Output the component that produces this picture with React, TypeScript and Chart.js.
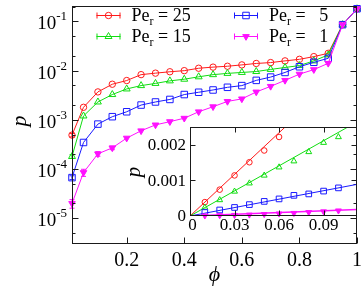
import React, { useEffect, useRef } from "react";
import { Chart, registerables } from "chart.js";
Chart.register(...registerables);

// ---------------- data (main panel, log scale) ----------------
const PHI = [0.01, 0.05, 0.1, 0.15, 0.2, 0.25, 0.3, 0.35, 0.4, 0.45, 0.5, 0.55, 0.6, 0.65, 0.7, 0.75, 0.8, 0.85, 0.9, 0.95, 1.0];
const P_PE25 = [4.9e-4, 1.8e-3, 3.7e-3, 5.3e-3, 6.3e-3, 8.3e-3, 8.9e-3, 9.5e-3, 1.0e-2, 1.12e-2, 1.18e-2, 1.23e-2, 1.31e-2, 1.4e-2, 1.46e-2, 1.58e-2, 1.7e-2, 1.93e-2, 2.25e-2, 0.086, 0.181];
const P_PE15 = [1.8e-4, 1.2e-3, 2.31e-3, 3.27e-3, 4.25e-3, 4.97e-3, 5.5e-3, 6.2e-3, 6.7e-3, 7.5e-3, 8.3e-3, 8.8e-3, 9.2e-3, 9.6e-3, 1.06e-2, 1.16e-2, 1.27e-2, 1.58e-2, 2.09e-2, 0.086, 0.181];
const P_PE5 = [6.7e-5, 3.47e-4, 8.2e-4, 1.16e-3, 1.46e-3, 2.0e-3, 2.31e-3, 2.6e-3, 3.27e-3, 3.64e-3, 4.05e-3, 4.59e-3, 4.97e-3, 6.35e-3, 7.4e-3, 9.2e-3, 1.2e-2, 1.48e-2, 1.78e-2, 0.086, 0.181];
const P_PE1 = [2.0e-5, 8.5e-5, 2.04e-4, 2.7e-4, 4.26e-4, 6.0e-4, 7.9e-4, 9.2e-4, 1.08e-3, 1.46e-3, 1.85e-3, 2.37e-3, 2.67e-3, 3.69e-3, 4.8e-3, 6.35e-3, 8.5e-3, 1.05e-2, 1.41e-2, 0.086, 0.181];
const ERR_PE25 = [4e-5, 0, 0, 0, 0, 0, 0, 0, 0, 0, 0, 0, 0, 0, 0, 0, 0, 0, 0, 0, 0];
const ERR_PE15 = [1.5e-5, 0, 0, 0, 0, 0, 0, 0, 0, 0, 0, 0, 0, 0, 0, 0, 0, 0, 0, 0, 0];
const ERR_PE5 = [6e-6, 0, 0, 0, 0, 0, 0, 0, 0, 0, 0, 0, 0, 0, 0, 0, 0, 0, 0, 0, 0];
const ERR_PE1 = [4e-6, 1.4e-5, 2.2e-5, 2.2e-5, 0, 0, 0, 0, 0, 0, 0, 0, 0, 0, 0, 0, 0, 0, 0, 0, 0];
const PE_LABELS = ["25", "15", "5", "1"];
const X_TICKS = [0.2, 0.4, 0.6, 0.8, 1];
const X_TICK_LABELS = ["0.2", "0.4", "0.6", "0.8", "1"];
const Y_DECADES = [-5, -4, -3, -2, -1];

// ---------------- data (inset, linear scale) ----------------
const INSET_PHI = [0.01, 0.02, 0.03, 0.04, 0.05, 0.06, 0.07, 0.08, 0.09, 0.1];
const INSET_PE25 = [3.9e-4, 7.4e-4, 1.14e-3, 1.51e-3, 1.84e-3, 2.22e-3];
const INSET_PE15 = [2.4e-4, 4.5e-4, 6.9e-4, 9.2e-4, 1.14e-3, 1.37e-3, 1.54e-3, 1.8e-3, 2.06e-3, 2.22e-3];
const INSET_PE5 = [9.9e-5, 1.69e-4, 2.4e-4, 3.2e-4, 4.1e-4, 4.8e-4, 5.8e-4, 6.2e-4, 7.0e-4, 7.9e-4];
const INSET_PE1 = [1.0e-5, 1.8e-5, 2.5e-5, 3.5e-5, 5.0e-5, 6.5e-5, 8.0e-5, 1.05e-4, 1.25e-4, 1.5e-4];
const INSET_FIT_SLOPE = [0.039, 0.0235, 0.0079, 0.0016];
const INSET_X_TICKS = [0, 0.03, 0.06, 0.09];
const INSET_X_LABELS = ["0", "0.03", "0.06", "0.09"];
const INSET_Y_TICKS = [0, 0.001, 0.002];
const INSET_Y_LABELS = ["0", "0.001", "0.002"];

// ---------------- styles ----------------
const SERIES_MAIN = [P_PE25, P_PE15, P_PE5, P_PE1];
const SERIES_ERR = [ERR_PE25, ERR_PE15, ERR_PE5, ERR_PE1];
const SERIES_INSET = [INSET_PE25, INSET_PE15, INSET_PE5, INSET_PE1];
const COLORS = ["#ff1a1a", "#11dd11", "#1a1aff", "#ff11ff"];
const MARKERS = [
  { style: "circle", rot: 0, r: 3.2, filled: false },
  { style: "triangle", rot: 0, r: 4, filled: false },
  { style: "rect", rot: 0, r: 4.6, filled: false },
  { style: "triangle", rot: 180, r: 3.8, filled: true },
];
const INSET_R = [2.8, 3.4, 4.0, 3.4];
const SERIF = '"Liberation Serif", "Times New Roman", "DejaVu Serif", serif';
const AXIS = "#1a1a1a";

const X_MIN = 0.01, X_MAX = 1.0, Y_MIN = 3e-6, Y_MAX = 0.21;
const IX_MAX = 0.1125, IY_MAX = 0.0025;

function drawMarker(ctx: CanvasRenderingContext2D, idx: number, x: number, y: number, r: number) {
  const m = MARKERS[idx];
  ctx.save();
  ctx.strokeStyle = COLORS[idx];
  ctx.fillStyle = COLORS[idx];
  ctx.lineWidth = 1;
  ctx.beginPath();
  if (m.style === "circle") {
    ctx.arc(x, y, r, 0, Math.PI * 2);
  } else if (m.style === "rect") {
    const s = Math.SQRT1_2 * r;
    ctx.rect(x - s, y - s, 2 * s, 2 * s);
  } else {
    let rad = (m.rot * Math.PI) / 180;
    ctx.moveTo(x + Math.sin(rad) * r, y - Math.cos(rad) * r);
    rad += (2 * Math.PI) / 3;
    ctx.lineTo(x + Math.sin(rad) * r, y - Math.cos(rad) * r);
    rad += (2 * Math.PI) / 3;
    ctx.lineTo(x + Math.sin(rad) * r, y - Math.cos(rad) * r);
    ctx.closePath();
  }
  if (m.filled) ctx.fill();
  ctx.stroke();
  ctx.restore();
}

const mainDeco = {
  id: "mainDeco",
  afterDatasetsDraw(chart: any) {
    const ctx: CanvasRenderingContext2D = chart.ctx;
    const ys = chart.scales.y;
    ctx.save();
    ctx.lineWidth = 1;
    SERIES_ERR.forEach((errs, i) => {
      const meta = chart.getDatasetMeta(i);
      ctx.strokeStyle = COLORS[i];
      errs.forEach((e, j) => {
        if (!e) return;
        const pt = meta.data[j];
        const v = SERIES_MAIN[i][j];
        const y1 = ys.getPixelForValue(v - e);
        const y2 = ys.getPixelForValue(v + e);
        const x = pt.x;
        ctx.beginPath();
        ctx.moveTo(x, y1); ctx.lineTo(x, y2);
        ctx.moveTo(x - 2.5, y1); ctx.lineTo(x + 2.5, y1);
        ctx.moveTo(x - 2.5, y2); ctx.lineTo(x + 2.5, y2);
        ctx.stroke();
      });
    });
    ctx.restore();
  },
  afterDraw(chart: any) {
    const ctx: CanvasRenderingContext2D = chart.ctx;
    const a = chart.chartArea;
    const xs = chart.scales.x;
    const ys = chart.scales.y;
    ctx.save();
    ctx.strokeStyle = AXIS;
    ctx.lineWidth = 1;
    const L = Math.round(a.left) + 0.5, R = Math.round(a.right) - 0.5;
    const T = Math.round(a.top) + 0.5, B = Math.round(a.bottom) - 0.5;
    ctx.strokeRect(L, T, R - L, B - T);
    ctx.beginPath();
    X_TICKS.forEach((t) => {
      const x = Math.round(xs.getPixelForValue(t)) + 0.5;
      ctx.moveTo(x, B); ctx.lineTo(x, B - 6);
    });
    Y_DECADES.forEach((d) => {
      const y = Math.round(ys.getPixelForValue(Math.pow(10, d))) + 0.5;
      ctx.moveTo(L, y); ctx.lineTo(L + 6, y);
      ctx.moveTo(R, y); ctx.lineTo(R - 6, y);
      [2, 5].forEach((m) => {
        const v = m * Math.pow(10, d);
        if (v > Y_MAX) return;
        const ym = Math.round(ys.getPixelForValue(v)) + 0.5;
        ctx.moveTo(L, ym); ctx.lineTo(L + 3, ym);
        ctx.moveTo(R, ym); ctx.lineTo(R - 3, ym);
      });
    });
    [2, 5].forEach((m) => {
      const v = m * 1e-6;
      if (v < Y_MIN) return;
      const ym = Math.round(ys.getPixelForValue(v)) + 0.5;
      ctx.moveTo(L, ym); ctx.lineTo(L + 3, ym);
      ctx.moveTo(R, ym); ctx.lineTo(R - 3, ym);
    });
    ctx.stroke();

    // tick labels
    ctx.fillStyle = "#000";
    ctx.font = `20px ${SERIF}`;
    ctx.textAlign = "center";
    ctx.textBaseline = "middle";
    X_TICKS.forEach((t, i) => {
      ctx.fillText(X_TICK_LABELS[i], xs.getPixelForValue(t), 261);
    });
    Y_DECADES.forEach((d) => {
      const y = ys.getPixelForValue(Math.pow(10, d));
      ctx.textBaseline = "alphabetic";
      ctx.textAlign = "right";
      ctx.font = `13px ${SERIF}`;
      const sup = "-" + String(-d);
      const supW = ctx.measureText(sup).width;
      ctx.fillText(sup, a.left - 5, y - 1);
      ctx.font = `19px ${SERIF}`;
      ctx.fillText("10", a.left - 5 - supW, y + 8);
    });

    // axis titles
    ctx.font = `italic 22px ${SERIF}`;
    ctx.textAlign = "center";
    ctx.textBaseline = "middle";
    ctx.fillText("\u03D5", (a.left + a.right) / 2, 275);
    ctx.save();
    ctx.translate(20, 121);
    ctx.rotate(-Math.PI / 2);
    ctx.fillText("p", 0, 0);
    ctx.restore();

    // legend
    const rows = [15, 36];
    const cols = [131.5, 269];
    PE_LABELS.forEach((lab, i) => {
      const x0 = cols[i < 2 ? 0 : 1];
      const y0 = rows[i % 2];
      ctx.strokeStyle = COLORS[i];
      ctx.lineWidth = 1;
      ctx.beginPath();
      ctx.moveTo(x0 - 35, y0 + 0.5); ctx.lineTo(x0 - 11, y0 + 0.5);
      ctx.moveTo(x0 - 34.5, y0 - 2.5); ctx.lineTo(x0 - 34.5, y0 + 3.5);
      ctx.moveTo(x0 - 11.5, y0 - 2.5); ctx.lineTo(x0 - 11.5, y0 + 3.5);
      ctx.stroke();
      drawMarker(ctx, i, x0 - 23, y0 + 0.5, MARKERS[i].r);
      ctx.fillStyle = "#000";
      ctx.textAlign = "left";
      ctx.textBaseline = "alphabetic";
      ctx.font = `18px ${SERIF}`;
      const base = y0 + 6;
      ctx.fillText("Pe", x0, base);
      const peW = ctx.measureText("Pe").width;
      const spW = ctx.measureText(" ").width;
      const eqW = ctx.measureText("=").width;
      const digW = ctx.measureText("0").width;
      ctx.font = `12px ${SERIF}`;
      ctx.fillText("r", x0 + peW, y0 + 10);
      const rW = ctx.measureText("r").width;
      ctx.font = `18px ${SERIF}`;
      const eqX = x0 + peW + rW + spW;
      ctx.fillText("=", eqX, base);
      ctx.textAlign = "right";
      ctx.fillText(lab, eqX + eqW + spW + 2 * digW, base);
    });
    ctx.restore();
  },
};

const insetDeco = {
  id: "insetDeco",
  afterDraw(chart: any) {
    const ctx: CanvasRenderingContext2D = chart.ctx;
    const a = chart.chartArea;
    const xs = chart.scales.x;
    const ys = chart.scales.y;
    ctx.save();
    ctx.strokeStyle = AXIS;
    ctx.lineWidth = 1;
    const L = Math.round(a.left) + 0.5, R = Math.round(a.right) - 0.5;
    const T = Math.round(a.top) + 0.5, B = Math.round(a.bottom) - 0.5;
    ctx.strokeRect(L, T, R - L, B - T);
    ctx.beginPath();
    INSET_X_TICKS.forEach((t) => {
      if (t === 0) return;
      const x = Math.round(xs.getPixelForValue(t)) + 0.5;
      ctx.moveTo(x, B); ctx.lineTo(x, B - 5);
      ctx.moveTo(x, T); ctx.lineTo(x, T + 5);
    });
    INSET_Y_TICKS.forEach((t) => {
      if (t === 0) return;
      const y = Math.round(ys.getPixelForValue(t)) + 0.5;
      ctx.moveTo(L, y); ctx.lineTo(L + 5, y);
      ctx.moveTo(R, y); ctx.lineTo(R - 5, y);
    });
    ctx.stroke();
    ctx.fillStyle = "#000";
    ctx.font = `17px ${SERIF}`;
    ctx.textAlign = "center";
    ctx.textBaseline = "middle";
    INSET_X_TICKS.forEach((t, i) => {
      const dx = t === 0 ? 2.5 : 0;
      ctx.fillText(INSET_X_LABELS[i], xs.getPixelForValue(t) + dx, B + 10);
    });
    ctx.textAlign = "right";
    INSET_Y_TICKS.forEach((t, i) => {
      ctx.fillText(INSET_Y_LABELS[i], a.left - 4, ys.getPixelForValue(t) + 1);
    });
    ctx.font = `italic 21px ${SERIF}`;
    ctx.textAlign = "center";
    ctx.save();
    ctx.translate(14, 62);
    ctx.rotate(-Math.PI / 2);
    ctx.fillText("p", 0, 0);
    ctx.restore();
    ctx.restore();
  },
};

export default function App() {
  const mainRef = useRef<HTMLCanvasElement>(null);
  const insetRef = useRef<HTMLCanvasElement>(null);

  useEffect(() => {
    const mainDatasets: any[] = SERIES_MAIN.map((vals, i) => ({
      data: PHI.map((x, j) => ({ x, y: vals[j] })),
      borderColor: COLORS[i],
      borderWidth: 1,
      pointStyle: MARKERS[i].style,
      pointRotation: MARKERS[i].rot,
      pointRadius: MARKERS[i].r,
      pointBorderWidth: 1,
      pointBorderColor: COLORS[i],
      pointBackgroundColor: MARKERS[i].filled ? COLORS[i] : "rgba(0,0,0,0)",
      tension: 0,
      fill: false,
      clip: false,
      order: 3 - i,
    }));

    const main = new Chart(mainRef.current!, {
      type: "line",
      data: { datasets: mainDatasets },
      plugins: [mainDeco],
      options: {
        animation: false,
        responsive: false,
        devicePixelRatio: 1,
        layout: { padding: { top: 3, right: 6, left: 0, bottom: 0 } },
        plugins: { legend: { display: false }, tooltip: { enabled: false } },
        scales: {
          x: {
            type: "linear", min: X_MIN, max: X_MAX,
            ticks: { display: false }, grid: { display: false }, border: { display: false },
            afterFit: (s: any) => { s.height = 47; },
          },
          y: {
            type: "logarithmic", min: Y_MIN, max: Y_MAX,
            ticks: { display: false }, grid: { display: false }, border: { display: false },
            afterFit: (s: any) => { s.width = 72; },
          },
        },
      } as any,
    });

    const insetDatasets: any[] = [];
    INSET_FIT_SLOPE.forEach((k, i) => {
      insetDatasets.push({
        data: [{ x: 0, y: 0 }, { x: IX_MAX, y: k * IX_MAX }],
        borderColor: COLORS[i],
        borderWidth: i === 3 ? 1.5 : 1,
        pointRadius: 0,
        tension: 0,
        fill: false,
        order: 10 + (3 - i),
      });
    });
    SERIES_INSET.forEach((vals, i) => {
      insetDatasets.push({
        data: vals.map((v, j) => ({ x: INSET_PHI[j], y: v })),
        showLine: false,
        pointStyle: MARKERS[i].style,
        pointRotation: MARKERS[i].rot,
        pointRadius: INSET_R[i],
        pointBorderWidth: 1,
        pointBorderColor: COLORS[i],
        pointBackgroundColor: MARKERS[i].filled ? COLORS[i] : "rgba(0,0,0,0)",
        clip: false,
        order: 3 - i,
      });
    });

    const inset = new Chart(insetRef.current!, {
      type: "line",
      data: { datasets: insetDatasets },
      plugins: [insetDeco],
      options: {
        animation: false,
        responsive: false,
        devicePixelRatio: 1,
        layout: { padding: { top: 17, right: 6, left: 0, bottom: 0 } },
        plugins: { legend: { display: false }, tooltip: { enabled: false } },
        scales: {
          x: {
            type: "linear", min: 0, max: IX_MAX,
            ticks: { display: false }, grid: { display: false }, border: { display: false },
            afterFit: (s: any) => { s.height = 44; },
          },
          y: {
            type: "linear", min: 0, max: IY_MAX,
            ticks: { display: false }, grid: { display: false }, border: { display: false },
            afterFit: (s: any) => { s.width = 70; },
          },
        },
      } as any,
    });

    return () => {
      main.destroy();
      inset.destroy();
    };
  }, []);

  return (
    <div style={{ position: "fixed", left: 0, top: 0, width: 363, height: 291, background: "#fff" }}>
      <canvas ref={mainRef} width={363} height={291} style={{ position: "absolute", left: 0, top: 0, width: 363, height: 291 }} />
      <canvas ref={insetRef} width={243} height={150} style={{ position: "absolute", left: 120, top: 110, width: 243, height: 150 }} />
    </div>
  );
}
